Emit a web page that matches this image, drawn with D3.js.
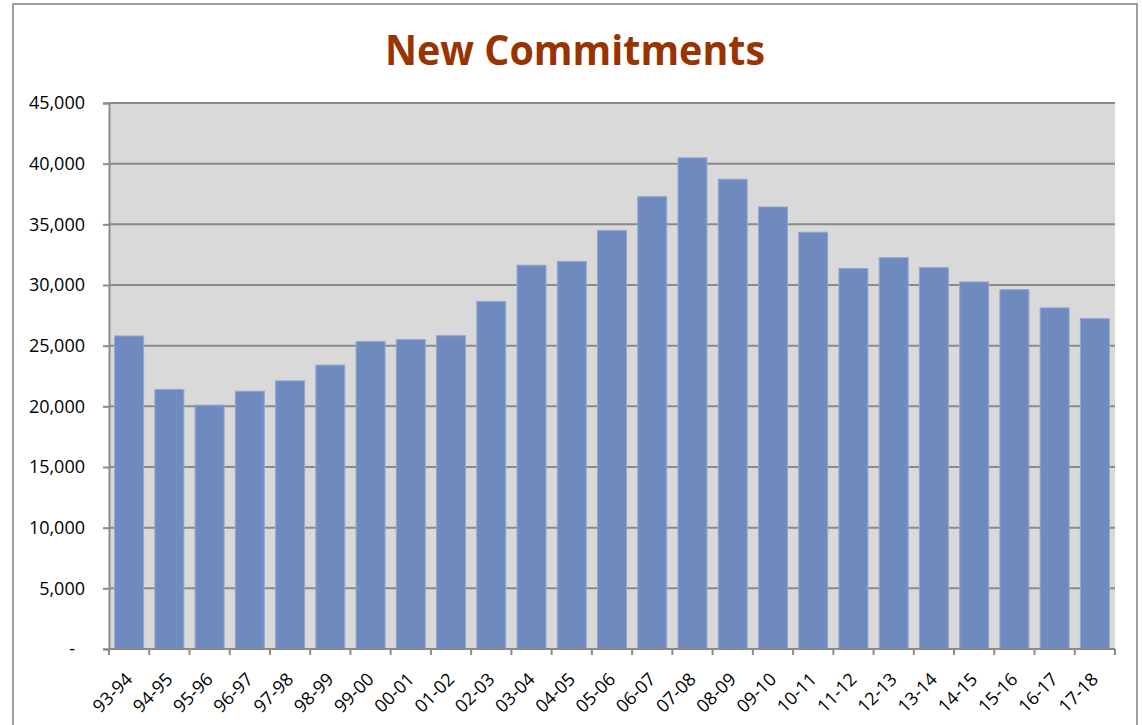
<!DOCTYPE html>
<html>
<head>
<meta charset="utf-8">
<script src="https://cdn.jsdelivr.net/npm/d3@7"></script>
<style>
  html, body { margin: 0; padding: 0; background: #fff; }
  svg { display: block; }
</style>
</head>
<body>
<svg id="chart" width="1142" height="725"></svg>
<script>
// Financial years and new commitments per year
const years = ["93-94","94-95","95-96","96-97","97-98","98-99","99-00","00-01","01-02","02-03",
  "03-04","04-05","05-06","06-07","07-08","08-09","09-10","10-11","11-12","12-13",
  "13-14","14-15","15-16","16-17","17-18"];
const commitments = [25800, 21400, 20100, 21250, 22100, 23400, 25350, 25500, 25820, 28650,
  31630, 31950, 34500, 37280, 40480, 38720, 36430, 34350, 31360, 32250,
  31430, 30250, 29620, 28110, 27230];
const yTicks = [0, 5000, 10000, 15000, 20000, 25000, 30000, 35000, 40000, 45000];
const chartTitle = "New Commitments";

const svg = d3.select("#chart");
const plot = { left: 109, top: 103, right: 1115, bottom: 649 };
const font = "'Open Sans', 'Liberation Sans', sans-serif";

// outer frame
svg.append("rect")
  .attr("x", 13).attr("y", 4).attr("width", 1124).attr("height", 740)
  .attr("fill", "#fff").attr("stroke", "#a0a0a0").attr("stroke-width", 2);

// title
svg.append("text")
  .attr("x", 575).attr("y", 65)
  .attr("text-anchor", "middle")
  .attr("font-family", font).attr("font-weight", 700).attr("font-size", 41)
  .attr("fill", "#993300")
  .attr("textLength", 380).attr("lengthAdjust", "spacingAndGlyphs")
  .text(chartTitle);

const x = d3.scaleBand().domain(years)
  .range([plot.left, plot.right])
  .paddingInner(0.28).paddingOuter(0.14);
const y = d3.scaleLinear().domain([0, 45000]).range([plot.bottom, plot.top]);

// plot background
svg.append("rect")
  .attr("x", plot.left).attr("y", plot.top)
  .attr("width", plot.right - plot.left).attr("height", plot.bottom - plot.top)
  .attr("fill", "#d9d9d9");

// horizontal gridlines
svg.append("g").selectAll("line")
  .data(yTicks.filter(d => d > 0))
  .join("line")
  .attr("x1", plot.left).attr("x2", plot.right)
  .attr("y1", d => y(d)).attr("y2", d => y(d))
  .attr("stroke", "#8a8a8a").attr("stroke-width", 2);

// bars
svg.append("g").selectAll("rect")
  .data(years.map((yr, i) => ({ yr, v: commitments[i] })))
  .join("rect")
  .attr("x", d => x(d.yr))
  .attr("y", d => y(d.v))
  .attr("width", x.bandwidth())
  .attr("height", d => y(0) - y(d.v))
  .attr("fill", "#6e8abe")
  .attr("stroke", "#93a7d0").attr("stroke-width", 1);

// y axis
const yAxis = d3.axisLeft(y)
  .tickValues(yTicks)
  .tickSize(6).tickPadding(18)
  .tickFormat(d => d === 0 ? "-" : d3.format(",")(d));
const gy = svg.append("g").attr("transform", `translate(${plot.left},0)`).call(yAxis);
gy.select(".domain").attr("stroke", "#8a8a8a").attr("stroke-width", 2);
gy.selectAll(".tick line").attr("stroke", "#8a8a8a").attr("stroke-width", 2);
gy.selectAll(".tick text")
  .attr("font-family", font).attr("font-size", 18).attr("fill", "#000");
gy.selectAll(".tick text").filter(d => d === 0).attr("dx", -10);

// x axis: ticks at the band boundaries, labels rotated
const gx = svg.append("g").attr("transform", `translate(0,${plot.bottom})`);
gx.append("line")
  .attr("x1", plot.left).attr("x2", plot.right)
  .attr("stroke", "#8a8a8a").attr("stroke-width", 2);
const step = x.step();
const bounds = d3.range(years.length + 1).map(i => plot.left + i * step);
gx.selectAll("line.tk").data(bounds).join("line").attr("class", "tk")
  .attr("x1", d => d).attr("x2", d => d)
  .attr("y1", 0).attr("y2", 6)
  .attr("stroke", "#8a8a8a").attr("stroke-width", 2);
gx.selectAll("text").data(years).join("text")
  .attr("transform", d => `translate(${x(d) + x.bandwidth() / 2},${27}) rotate(-45)`)
  .attr("text-anchor", "end")
  .attr("dy", "0.35em")
  .attr("font-family", font).attr("font-size", 18).attr("fill", "#000")
  .text(d => d);
</script>
</body>
</html>
